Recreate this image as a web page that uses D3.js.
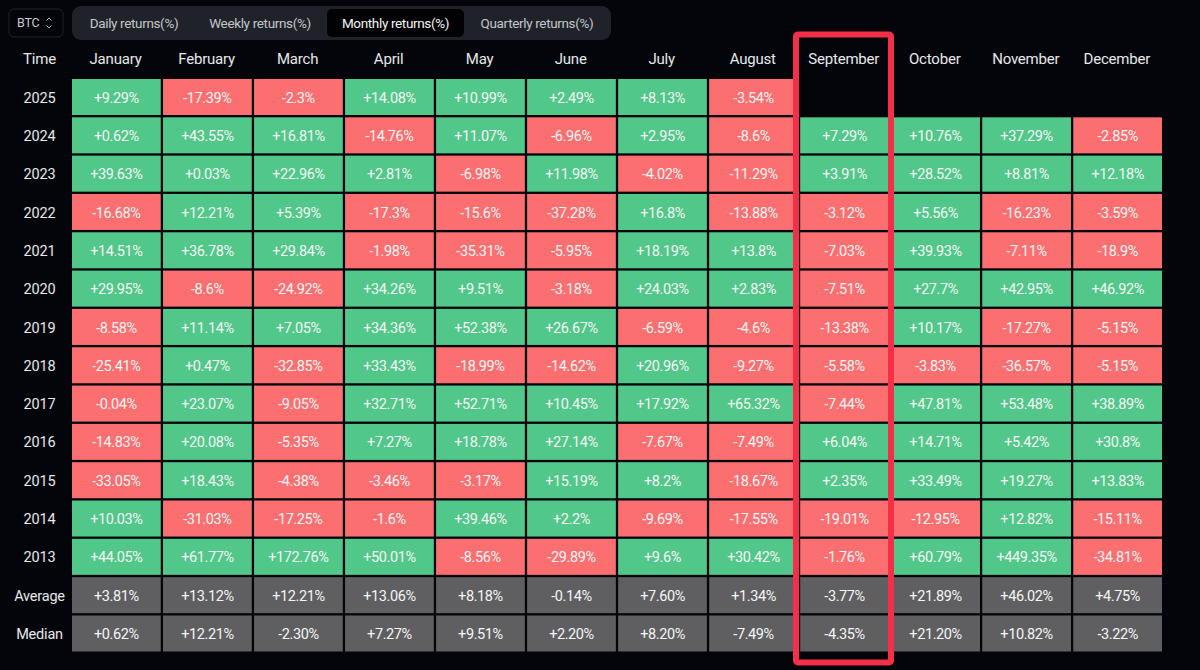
<!DOCTYPE html>
<html><head><meta charset="utf-8">
<script src="https://cdnjs.cloudflare.com/ajax/libs/d3/7.9.0/d3.min.js"></script>
<style>html,body{margin:0;background:#04050a;}svg{display:block}text{font-family:Roboto,sans-serif;}</style>
</head><body><div id="c"></div>
<script>
const months=["January","February","March","April","May","June","July","August","September","October","November","December"];
const rowNames=["2025","2024","2023","2022","2021","2020","2019","2018","2017","2016","2015","2014","2013","Average","Median"];
const tabs=["Daily returns(%)","Weekly returns(%)","Monthly returns(%)","Quarterly returns(%)"];
const tabCentres=[134,260,395.5,537];
const r2025=["+9.29%","-17.39%","-2.3%","+14.08%","+10.99%","+2.49%","+8.13%","-3.54%",null,null,null,null];
const r2024=["+0.62%","+43.55%","+16.81%","-14.76%","+11.07%","-6.96%","+2.95%","-8.6%","+7.29%","+10.76%","+37.29%","-2.85%"];
const r2023=["+39.63%","+0.03%","+22.96%","+2.81%","-6.98%","+11.98%","-4.02%","-11.29%","+3.91%","+28.52%","+8.81%","+12.18%"];
const r2022=["-16.68%","+12.21%","+5.39%","-17.3%","-15.6%","-37.28%","+16.8%","-13.88%","-3.12%","+5.56%","-16.23%","-3.59%"];
const r2021=["+14.51%","+36.78%","+29.84%","-1.98%","-35.31%","-5.95%","+18.19%","+13.8%","-7.03%","+39.93%","-7.11%","-18.9%"];
const r2020=["+29.95%","-8.6%","-24.92%","+34.26%","+9.51%","-3.18%","+24.03%","+2.83%","-7.51%","+27.7%","+42.95%","+46.92%"];
const r2019=["-8.58%","+11.14%","+7.05%","+34.36%","+52.38%","+26.67%","-6.59%","-4.6%","-13.38%","+10.17%","-17.27%","-5.15%"];
const r2018=["-25.41%","+0.47%","-32.85%","+33.43%","-18.99%","-14.62%","+20.96%","-9.27%","-5.58%","-3.83%","-36.57%","-5.15%"];
const r2017=["-0.04%","+23.07%","-9.05%","+32.71%","+52.71%","+10.45%","+17.92%","+65.32%","-7.44%","+47.81%","+53.48%","+38.89%"];
const r2016=["-14.83%","+20.08%","-5.35%","+7.27%","+18.78%","+27.14%","-7.67%","-7.49%","+6.04%","+14.71%","+5.42%","+30.8%"];
const r2015=["-33.05%","+18.43%","-4.38%","-3.46%","-3.17%","+15.19%","+8.2%","-18.67%","+2.35%","+33.49%","+19.27%","+13.83%"];
const r2014=["+10.03%","-31.03%","-17.25%","-1.6%","+39.46%","+2.2%","-9.69%","-17.55%","-19.01%","-12.95%","+12.82%","-15.11%"];
const r2013=["+44.05%","+61.77%","+172.76%","+50.01%","-8.56%","-29.89%","+9.6%","+30.42%","-1.76%","+60.79%","+449.35%","-34.81%"];
const rAverage=["+3.81%","+13.12%","+12.21%","+13.06%","+8.18%","-0.14%","+7.60%","+1.34%","-3.77%","+21.89%","+46.02%","+4.75%"];
const rMedian=["+0.62%","+12.21%","-2.30%","+7.27%","+9.51%","+2.20%","+8.20%","-7.49%","-4.35%","+21.20%","+10.82%","-3.22%"];
const rows=[r2025,r2024,r2023,r2022,r2021,r2020,r2019,r2018,r2017,r2016,r2015,r2014,r2013,rAverage,rMedian];

const W=1200,H=670;
const svg=d3.select("#c").append("svg").attr("width",W).attr("height",H);
const x=d3.scaleBand().domain(months).range([72,1162]).paddingInner(0.025);
const y=d3.scaleBand().domain(rowNames).range([79,651.5]).paddingInner(0.06);
const colour=(row,v)=>(row==="Average"||row==="Median")?"#5f5f62":(parseFloat(v)>=0?"#52c78a":"#fb6f71");

// toolbar
svg.append("rect").attr("x",9).attr("y",9).attr("width",54).attr("height",28).attr("rx",5).attr("fill","none").attr("stroke","#1f2229");
svg.append("text").attr("x",17).attr("y",23).attr("dy","0.35em").attr("font-size",12.5).attr("letter-spacing",-0.2).attr("fill","#c9cbcf").text("BTC");
svg.append("path").attr("d","M46.5 20.5l2.5-2.5 2.5 2.5M46.5 25.5l2.5 2.5 2.5-2.5").attr("fill","none").attr("stroke","#b5b7bb").attr("stroke-width",1);
svg.append("rect").attr("x",72).attr("y",6).attr("width",539).attr("height",34).attr("rx",9).attr("fill","#1f2229");
svg.append("rect").attr("x",327).attr("y",9).attr("width",137).attr("height",28).attr("rx",5).attr("fill","#020204");
svg.selectAll(".tab").data(tabs).join("text").attr("class","tab")
 .attr("x",(d,i)=>tabCentres[i]).attr("y",23).attr("dy","0.35em").attr("text-anchor","middle")
 .attr("font-size",13.5).attr("letter-spacing",-0.35).attr("fill",d=>d.startsWith("Monthly")?"#f2f2f2":"#c4c6ca").text(d=>d);

// header
const headerY=59;
svg.append("text").attr("x",39.5).attr("y",headerY).attr("dy","0.35em").attr("text-anchor","middle").attr("font-size",15).attr("letter-spacing",-0.2).attr("fill","#e6e8ea").text("Time");
svg.selectAll(".m").data(months).join("text").attr("class","m")
 .attr("x",d=>x(d)+x.bandwidth()/2-0.8).attr("y",headerY).attr("dy","0.35em").attr("text-anchor","middle")
 .attr("font-size",15).attr("letter-spacing",-0.2).attr("fill","#e6e8ea").text(d=>d);

// row labels
svg.selectAll(".r").data(rowNames).join("text").attr("class","r")
 .attr("x",39.5).attr("y",d=>y(d)+y.bandwidth()/2+0.5).attr("dy","0.35em").attr("text-anchor","middle")
 .attr("font-size",14.5).attr("letter-spacing",-0.2).attr("fill","#e6e8ea").text(d=>d);

// cells
const cells=rows.flatMap((vals,i)=>vals.map((v,j)=>({row:rowNames[i],month:months[j],v})).filter(d=>d.v!==null));
svg.selectAll(".cell").data(cells).join("rect").attr("class","cell")
 .attr("x",d=>x(d.month)).attr("y",d=>y(d.row)).attr("width",x.bandwidth()).attr("height",y.bandwidth())
 .attr("fill",d=>colour(d.row,d.v));
svg.selectAll(".val").data(cells).join("text").attr("class","val")
 .attr("x",d=>x(d.month)+x.bandwidth()/2).attr("y",d=>y(d.row)+y.bandwidth()/2+0.5).attr("dy","0.35em")
 .attr("text-anchor","middle").attr("font-size",14.5).attr("letter-spacing",-0.4).attr("fill","#f4f6f5").text(d=>d.v);

// highlight box
svg.append("rect").attr("x",796).attr("y",34.5).attr("width",95).attr("height",628).attr("rx",2)
 .attr("fill","none").attr("stroke","#f42f48").attr("stroke-width",6);
</script></body></html>
